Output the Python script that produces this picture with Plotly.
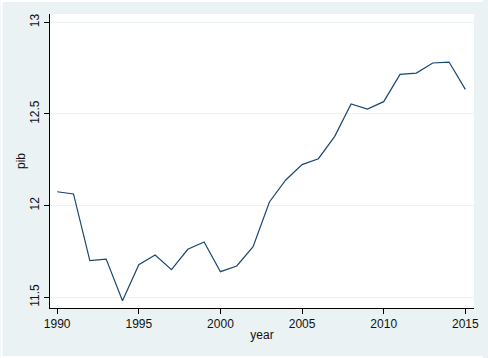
import plotly.graph_objects as go

years = list(range(1990, 2016))
pib = [12.076, 12.064, 11.700, 11.709, 11.482, 11.678, 11.731, 11.651, 11.762, 11.802,
       11.640, 11.671, 11.776, 12.020, 12.140, 12.224, 12.256, 12.378, 12.555, 12.527,
       12.567, 12.716, 12.723, 12.778, 12.783, 12.634]
x_ticks = [1990, 1995, 2000, 2005, 2010, 2015]
y_ticks = [11.5, 12, 12.5, 13]
y_ticklabels = ["11.5", "12", "12.5", "13"]

BG = "#EAF2F3"
FONT = "Liberation Sans, Arial, sans-serif"

W, H = 488, 358
L, R, T, B = 50, 9, 14, 50
PW, PH = W - L - R, H - T - B


def strip(x0, x1, y0, y1):
    # pixel coordinates (from top-left) converted to paper coordinates
    return dict(type="rect", xref="paper", yref="paper", layer="above",
                x0=(x0 - L) / PW, x1=(x1 - L) / PW,
                y0=(H - B - y1) / PH, y1=(H - B - y0) / PH,
                fillcolor="white", line=dict(width=0))


fig = go.Figure()
fig.add_trace(go.Scatter(x=years, y=pib, mode="lines",
                         line=dict(color="#1a476f", width=1.2),
                         hoverinfo="x+y", showlegend=False))

fig.update_layout(
    width=W, height=H,
    margin=dict(l=L, r=R, t=T, b=B, pad=0),
    paper_bgcolor=BG,
    plot_bgcolor="white",
    font=dict(family=FONT, size=12, color="#111111"),
    shapes=[strip(0, 2, 0, H), strip(0, W, 0, 2), strip(0, W, H - 2, H)],
    xaxis=dict(range=[1989.56, 2015.53], tickvals=x_ticks,
               ticks="outside", ticklen=5, tickwidth=1, tickcolor="black",
               showline=True, linecolor="black", linewidth=1,
               showgrid=False, zeroline=False,
               tickfont=dict(size=12),
               title=dict(text="year", font=dict(size=12), standoff=0)),
    yaxis=dict(range=[11.442, 13.045], tickvals=y_ticks, ticktext=y_ticklabels,
               tickangle=-90,
               ticks="outside", ticklen=5, tickwidth=1, tickcolor="black",
               showline=True, linecolor="black", linewidth=1,
               showgrid=True, gridcolor=BG, gridwidth=1, zeroline=False,
               tickfont=dict(size=12),
               title=dict(text="pib", font=dict(size=12), standoff=0)),
)

fig.write_html("out.html", config={"displayModeBar": False},
               post_script="document.body.style.margin='0';document.body.style.padding='0';")
